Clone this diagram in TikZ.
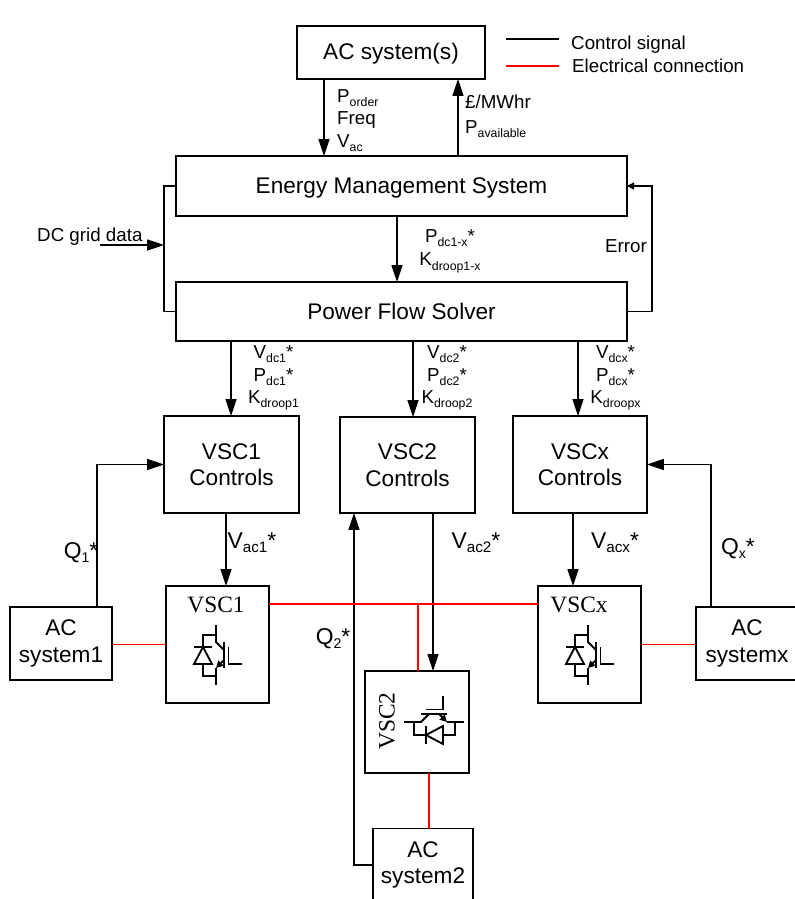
\documentclass[tikz,border=0pt]{standalone}
\usepackage{fontspec}
\setmainfont{Liberation Sans}
\newfontfamily\serifface{Liberation Serif}
\usetikzlibrary{arrows.meta}

\newcommand{\lowtext}[2][10.5]{\raisebox{-3.5pt}{\fontsize{#1}{12}\selectfont #2}}
\def\px{0.03cm}

\tikzset{
    block/.style={draw,line width=1.1pt,inner sep=0pt,outer sep=0pt,align=center,font=\fontsize{19.3}{22.6}\selectfont},
    label/.style={inner sep=0pt,font=\fontsize{16}{19.2}\selectfont},
    biglabel/.style={inner sep=0pt,font=\fontsize{19.5}{22}\selectfont},
    conv/.style={inner sep=0pt,font=\serifface\fontsize{20}{24}\selectfont},
    signal/.style={line width=0.9pt},
    feed/.style={signal,-{Triangle[length=14.5pt,width=9.5pt]}},
    power/.style={red,line width=1.4pt},
    pics/igbt/.style={code={
        \draw[line width=1.6pt] (0,-30) -- (0,-13) -- (8,-5);
        \draw[line width=1.6pt,-{Triangle[length=6pt,width=6pt]}] (8,5) -- (0,13);
        \draw[line width=1.6pt] (0,13) -- (0,30);
        \draw[line width=1.6pt] (8,-13) -- (8,13);
        \draw[line width=1.6pt] (12.5,-8) -- (12.5,9) -- (26,9);
        \draw[line width=1.6pt] (0,-20) -- (-13,-20) -- (-13,-8);
        \draw[line width=1.6pt] (-13,9) -- (-13,21) -- (0,21);
        \draw[line width=1.6pt] (-22,9) -- (-4,9) -- (-13,-8) -- cycle;
        \draw[line width=1.6pt] (-22,-8) -- (-4,-8);
    }}
}

\begin{document}
\begin{tikzpicture}[x=0.03cm,y=-0.03cm]
    \useasboundingbox (0,0) rectangle (795,899);

    % upper blocks
    \node[block,text depth=2pt,minimum width=188*\px,minimum height=53*\px] (acsys) at (391,52.5) {AC system(s)};
    \node[block,text depth=0pt,minimum width=451*\px,minimum height=60*\px] (ems) at (401.5,186) {Energy Management System};
    \node[block,minimum width=451*\px,minimum height=59*\px] (pfs) at (401.5,311.5) {Power Flow Solver};

    % controls
    \node[block,minimum width=135*\px,minimum height=97*\px] (ctrl1) at (231.5,464.5) {VSC1\\Controls};
    \node[block,minimum width=135*\px,minimum height=96*\px] (ctrl2) at (407.5,465) {VSC2\\Controls};
    \node[block,minimum width=134*\px,minimum height=97*\px] (ctrlx) at (580,464.5) {VSCx\\Controls};

    % converters
    \node[block,minimum width=103*\px,minimum height=117*\px] (conv1) at (217.5,644.5) {};
    \node[block,minimum width=104*\px,minimum height=102*\px] (conv2) at (417,722) {};
    \node[block,minimum width=103*\px,minimum height=117*\px] (convx) at (589.5,644.5) {};
    \node[conv] (name1) at (216,605) {VSC1};
    \node[conv,rotate=90] (name2) at (387,721) {VSC2};
    \node[conv] (namex) at (579,605) {VSCx};
    \pic at (216,655) {igbt};
    \pic[rotate=90] at (434,722) {igbt};
    \pic at (588,655) {igbt};

    % ac systems
    \node[block,minimum width=102*\px,minimum height=73*\px] (ac1) at (61,643.5) {AC\\system1};
    \node[block,minimum width=100*\px,minimum height=73*\px] (ac2) at (423,865) {AC\\system2};
    \node[block,minimum width=102*\px,minimum height=73*\px] (acx) at (747,643.5) {AC\\systemx};

    % signals
    \draw[feed] (acsys.south -| 324,0) -- (ems.north -| 324,0);
    \draw[feed] (ems.north -| 458,0) -- (acsys.south -| 458,0);
    \draw[feed] (ems.south -| 397,0) -- (pfs.north -| 397,0);
    \draw[signal] (ems.west) -- ++(-12,0) |- (pfs.west);
    \coordinate (gridstart) at (100,245);
    \coordinate (gridend) at (164,245);
    \draw[feed] (gridstart) -- (gridend);
    \draw[signal,-{Triangle[length=6pt,width=6pt]}] (pfs.east) -- ++(25,0) |- (ems.east);
    \draw[feed] (pfs.south -| 231,0) -- (ctrl1.north -| 231,0);
    \draw[feed] (pfs.south -| 413,0) -- (ctrl2.north -| 413,0);
    \draw[feed] (pfs.south -| 578,0) -- (ctrlx.north -| 578,0);
    \draw[feed] (ctrl1.south -| 226,0) -- (conv1.north -| 226,0);
    \draw[feed] (ctrl2.south -| 433,0) -- (conv2.north -| 433,0);
    \draw[feed] (ctrlx.south -| 573,0) -- (convx.north -| 573,0);
    \draw[feed] (ac1.north -| 97,0) |- (ctrl1.west);
    \draw[feed] (acx.north -| 711,0) |- (ctrlx.east);
    \draw[feed] (ac2.west) -| (ctrl2.south -| 354,0);

    % electrical
    \draw[power] (conv1.east |- 0,604) -- (convx.west |- 0,604);
    \coordinate (tee) at (418,604);
    \draw[power] (tee) -- (conv2.north -| 418,0);
    \draw[power] (ac1.east |- conv1.west) -- (conv1.west);
    \draw[power] (convx.east) -- (acx.west |- convx.east);
    \draw[power] (conv2.south -| 429,0) -- (ac2.north -| 429,0);

    % legend
    \coordinate (keya) at (506,39);
    \coordinate (keyb) at (559,39);
    \coordinate (keyc) at (506,66);
    \coordinate (keyd) at (559,66);
    \draw[signal] (keya) -- (keyb);
    \draw[power] (keyc) -- (keyd);
    \node[label,anchor=west] (keysignal) at (571,45) {Control signal};
    \node[label,anchor=west] (keyelec) at (572,66) {Electrical connection};

    % labels
    \node[label,anchor=north west,align=left] (l1) at (337,89) {P\lowtext{order}\\Freq\\V\lowtext{ac}};
    \node[label,anchor=north west,align=left] (l2) at (465,94.5) {£/MWhr\\[2pt]P\lowtext{available}};
    \node[label,anchor=west] (l3) at (37,237) {DC grid data};
    \node[label,align=center] (l4) at (450,251) {P\lowtext{dc1-x}*\\[1pt]K\lowtext{droop1-x}};
    \node[label] (l5) at (626,246) {Error};
    \node[label,align=center] (l6) at (273.5,378) {V\lowtext{dc1}*\\P\lowtext{dc1}*\\K\lowtext{droop1}};
    \node[label,align=center] (l7) at (447,378) {V\lowtext{dc2}*\\P\lowtext{dc2}*\\K\lowtext{droop2}};
    \node[label,align=center] (l8) at (615.5,378) {V\lowtext{dcx}*\\P\lowtext{dcx}*\\K\lowtext{droopx}};
    \node[biglabel] (l9) at (81,553) {Q\lowtext[12]{1}*};
    \node[biglabel] (l10) at (252,543) {V\lowtext[13]{ac1}*};
    \node[biglabel] (l11) at (476,543) {V\lowtext[13]{ac2}*};
    \node[biglabel] (l12) at (615,543) {V\lowtext[13]{acx}*};
    \node[biglabel] (l13) at (738,549) {Q\lowtext[12]{x}*};
    \node[biglabel] (l14) at (333,639) {Q\lowtext[12]{2}*};
\end{tikzpicture}
\end{document}
